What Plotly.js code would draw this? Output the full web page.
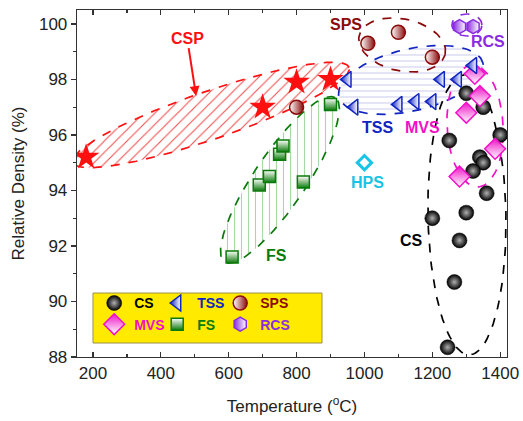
<!DOCTYPE html>
<html><head><meta charset="utf-8">
<script src="https://cdn.plot.ly/plotly-3.0.1.min.js"></script>
<style>html,body{margin:0;padding:0;background:#fff}</style>
</head><body><div id="chart" style="width:523px;height:421px"></div>
<script>
// ---- data (Temperature in °C, Relative density in %) ----
const csT  = [1300, 1350, 1400, 1250, 1340, 1350, 1320, 1360, 1300, 1200, 1280, 1265, 1245];
const csD  = [97.5, 97.0, 96.0, 95.8, 95.2, 95.0, 94.7, 93.9, 93.2, 93.0, 92.2, 90.7, 88.35];
const tssT = [950, 970, 1100, 1150, 1200, 1225, 1275, 1320];
const tssD = [98.0, 97.0, 97.1, 97.2, 97.2, 98.0, 98.0, 98.5];
const spsT = [800, 1010, 1100, 1200];
const spsD = [97.0, 99.3, 99.7, 98.8];
const mvsT = [1325, 1340, 1300, 1385, 1280];
const mvsD = [98.2, 97.4, 96.8, 95.5, 94.5];
const fsT  = [610, 690, 720, 750, 760, 820, 900];
const fsD  = [91.6, 94.2, 94.5, 95.3, 95.6, 94.3, 97.1];
const rcsT = [1280, 1320];
const rcsD = [99.9, 99.9];
const cspT = [180, 700, 800, 900];
const cspD = [95.2, 97.0, 97.9, 98.0];
const hpsT = [1000];
const hpsD = [95.0];
const xTicks = [200, 400, 600, 800, 1000, 1200, 1400];
const yTicks = [88, 90, 92, 94, 96, 98, 100];

// ---- layout geometry ----
const M = {l: 77, r: 16, t: 10, b: 64};
const W = 523, H = 421;
const xR = [153, 1420], yR = [88, 100.5];
const sx = (W - M.l - M.r) / (xR[1] - xR[0]);
const sy = (H - M.t - M.b) / (yR[1] - yR[0]);

function ellipse(cx, cy, a, b, ang) {
  const th = ang * Math.PI / 180, xs = [], ys = [];
  for (let i = 0; i <= 120; i++) {
    const t = 2 * Math.PI * i / 120;
    const dx = a * Math.cos(th) * Math.cos(t) - b * Math.sin(th) * Math.sin(t);
    const dy = a * Math.sin(th) * Math.cos(t) + b * Math.cos(th) * Math.sin(t);
    xs.push(cx + dx / sx); ys.push(cy + dy / sy);
  }
  return {x: xs, y: ys};
}

const C = {cs:'#000000', tss:'#1024c0', sps:'#8b0a0a', mvs:'#f010c8', fs:'#0a7a0a', rcs:'#8a2be2', csp:'#ff1010', hps:'#18c4e6'};

const ells = [
  {c:[548, 96.72], a:146, b:24, ang:19,  col:C.csp, pat:{shape:'/', size:8, solidity:0.14, fgcolor:'#f05050'}},
  {c:[1137, 97.98], a:74, b:31, ang:13,  col:C.tss, pat:{shape:'-', size:6, solidity:0.16, fgcolor:'#c8c8ee'}},
  {c:[751, 94.38], a:99, b:26, ang:56,   col:C.fs,  pat:{shape:'|', size:7, solidity:0.16, fgcolor:'#a8d8a8'}},
  {c:[1111, 99.24], a:44, b:26, ang:-12, col:C.sps},
  {c:[1302, 99.96], a:15, b:11, ang:0,   col:C.rcs},
  {c:[1326, 96.32], a:61, b:28, ang:93,  col:C.mvs},
  {c:[1302, 93.12], a:140, b:39, ang:91, col:C.cs}
];

const traces = [];
ells.forEach(e => {
  const p = ellipse(e.c[0], e.c[1], e.a, e.b, e.ang);
  const tr = {x:p.x, y:p.y, mode:'lines', line:{color:e.col, width:1.7, dash:'dash'},
    showlegend:false, hoverinfo:'skip', type:'scatter'};
  if (e.pat) {
    tr.fill = 'toself';
    tr.fillcolor = 'rgba(0,0,0,0)';
    tr.fillpattern = Object.assign({bgcolor:'rgba(255,255,255,0)', fillmode:'replace'}, e.pat);
  }
  traces.push(tr);
});

function pts(name, col, xs, ys, marker, group, lw) {
  const t = {type:'scatter', mode:'markers', x:xs, y:ys, legendgroup:group,
    name:'<span style="color:' + col + '">' + name + '</span>', marker:marker, hoverinfo:'x+y'};
  if (lw) t.legendwidth = lw;
  return t;
}
traces.push(pts('CS', C.cs, csT, csD, {symbol:'circle', size:15, color:'#000', gradient:{type:'radial', color:'#b0b0b0'}, line:{color:'#000', width:0.5}}, 'g1'));
traces.push(pts('MVS', C.mvs, mvsT, mvsD, {symbol:'diamond', size:16, color:C.mvs, gradient:{type:'vertical', color:'#ffffff'}, line:{color:C.mvs, width:1.5}}, 'g1'));
traces.push(pts('TSS', C.tss, tssT, tssD, {symbol:'triangle-left', size:14, color:C.tss, gradient:{type:'horizontal', color:'#ffffff'}, line:{color:C.tss, width:1.5}}, 'g2'));
traces.push(pts('FS', C.fs, fsT, fsD, {symbol:'square', size:12, color:'#ffffff', gradient:{type:'vertical', color:C.fs}, line:{color:C.fs, width:1.5}}, 'g2'));
traces.push(pts('SPS', C.sps, spsT, spsD, {symbol:'circle', size:14, color:'#ffffff', gradient:{type:'horizontal', color:C.sps}, line:{color:C.sps, width:1.5}}, 'g3', 44));
traces.push(pts('RCS', C.rcs, rcsT, rcsD, {symbol:'hexagon', size:14, color:C.rcs, gradient:{type:'horizontal', color:'#ffffff'}, line:{color:C.rcs, width:1.5}}, 'g3', 44));
traces.push({type:'scatter', mode:'markers', x:cspT, y:cspD, name:'CSP', showlegend:false,
  marker:{symbol:'star', size:20, color:C.csp, line:{width:0}}});
traces.push({type:'scatter', mode:'markers', x:hpsT, y:hpsD, name:'HPS', showlegend:false,
  marker:{symbol:'diamond', size:11, color:'#ffffff', line:{color:C.hps, width:3}}});

const lblFont = (c) => ({family:'Liberation Sans, Arial, sans-serif', size:16, color:c, weight:'bold'});
const labels = [
  {t:'SPS', x:946, y:99.96, c:C.sps},
  {t:'RCS', x:1364, y:99.35, c:C.rcs},
  {t:'TSS', x:1037, y:96.25, c:C.tss},
  {t:'MVS', x:1172, y:96.25, c:C.mvs},
  {t:'HPS', x:1010, y:94.27, c:C.hps},
  {t:'FS',  x:742, y:91.67, c:C.fs},
  {t:'CS',  x:1140, y:92.21, c:C.cs}
];
const annotations = labels.map(l => ({text:'<b>' + l.t + '</b>', x:l.x, y:l.y, xref:'x', yref:'y', showarrow:false, font:lblFont(l.c)}));
annotations.push({text:'<b>CSP</b>', x:504, y:97.40, xref:'x', yref:'y', showarrow:true, ax:-9, ay:-58,
  arrowcolor:C.csp, arrowwidth:2, arrowhead:2, arrowsize:1, font:lblFont(C.csp)});

const tickFont = {family:'Liberation Sans, Arial, sans-serif', size:17, color:'#222'};
const layout = {
  width:W, height:H, margin:M, paper_bgcolor:'#fff', plot_bgcolor:'#fff',
  showlegend:true,
  legend:{orientation:'h', traceorder:'grouped', entrywidth:18, x:0.04, y:0.2006, xanchor:'left', yanchor:'top',
    bgcolor:'rgba(0,0,0,0)', borderwidth:0,
    font:{family:'Liberation Sans, Arial, sans-serif', size:14, weight:'bold', color:'#000'}},
  xaxis:{range:xR, tickvals:xTicks, ticks:'inside', ticklen:5, tickwidth:1.3, tickcolor:'#333',
    minor:{dtick:100, tick0:100, ticks:'inside', ticklen:3, tickcolor:'#333'},
    mirror:'allticks', showline:true, linecolor:'#333', linewidth:1.3, showgrid:false, zeroline:false,
    tickfont:tickFont, title:{text:'Temperature (<sup>o</sup>C)', font:tickFont, standoff:18}},
  yaxis:{range:yR, tickvals:yTicks, ticks:'outside', ticklen:5, tickwidth:1.3, tickcolor:'#333',
    minor:{dtick:1, tick0:88, ticks:'outside', ticklen:3, tickcolor:'#333'},
    mirror:true, showline:true, linecolor:'#333', linewidth:1.3, showgrid:false, zeroline:false,
    tickfont:tickFont, title:{text:'Relative Density (%)', font:tickFont, standoff:10}},
  shapes:[{type:'rect', xref:'paper', yref:'paper', x0:0.0372, x1:0.5698, y0:0.0403, y1:0.1844,
    fillcolor:'#ffea00', line:{color:'#9a9050', width:1}, layer:'below'}],
  annotations:annotations
};
Plotly.newPlot('chart', traces, layout, {displayModeBar:false, staticPlot:true});
</script></body></html>
